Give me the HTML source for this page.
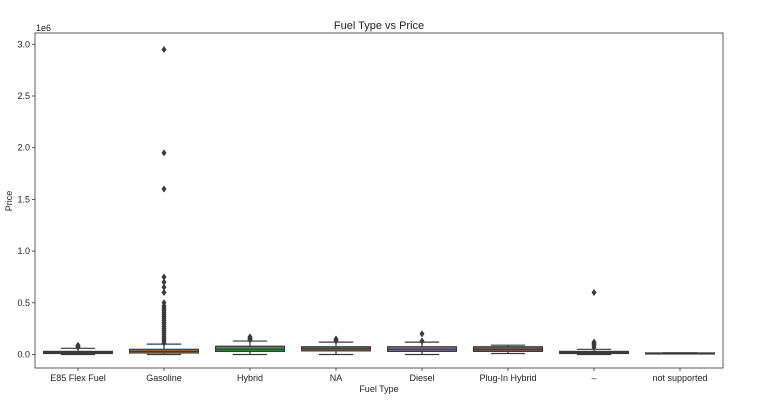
<!DOCTYPE html>
<html><head><meta charset="utf-8"><style>
body{margin:0;background:#fff;font-family:"Liberation Sans","DejaVu Sans",sans-serif}
svg text{font-family:"Liberation Sans","DejaVu Sans",sans-serif;fill:#222}
</style></head><body>
<svg id="chart" width="766" height="403" viewBox="0 0 766 403" xmlns="http://www.w3.org/2000/svg">
<text x="379" y="29" font-size="11" text-anchor="middle">Fuel Type vs Price</text>
<text x="379" y="392" font-size="9" text-anchor="middle">Fuel Type</text>
<text x="12" y="201" font-size="9" text-anchor="middle" transform="rotate(-90 12 201)">Price</text>
<text x="36" y="31" font-size="9">1e6</text>
<g id="marks"></g>
<rect x="35" y="33" width="688" height="335" fill="none" stroke="#333" stroke-width="0.8"/>
</svg>
<script>
const categories=["E85 Flex Fuel","Gasoline","Hybrid","NA","Diesel","Plug-In Hybrid","–","not supported"];
const q1=[0.01,0.015,0.03,0.035,0.03,0.03,0.01,0.01];
const medians=[0.02,0.03,0.05,0.055,0.05,0.05,0.02,0.012];
const q3=[0.03,0.05,0.08,0.075,0.075,0.075,0.03,0.015];
const whiskLow=[0,0,0,0,0,0.01,0,0.008];
const whiskHigh=[0.06,0.1,0.13,0.12,0.12,0.09,0.05,0.016];
const outliers=[[0.07,0.08,0.09],[0.11,0.13,0.15,0.17,0.19,0.21,0.23,0.25,0.27,0.29,0.31,0.33,0.35,0.37,0.39,0.41,0.43,0.45,0.47,0.5,0.6,0.65,0.7,0.75,1.6,1.95,2.95],[0.14,0.15,0.16,0.17],[0.13,0.14,0.15],[0.13,0.2],[],[0.07,0.09,0.1,0.11,0.12,0.6],[]];
const colors=["#4a6d92","#b27a4c","#3f8a4f","#a64b4b","#7a6e9e","#80594d","#c58aae","#888888"];
const yTicks=[0,0.5,1.0,1.5,2.0,2.5,3.0];
const left=35,right=723,y0=354.5,pxPerUnit=103.4;
const bandW=(right-left)/categories.length;
const x=i=>left+bandW*(i+0.5);
const y=v=>y0-v*pxPerUnit;
const NS="http://www.w3.org/2000/svg";
const g=document.getElementById('marks');
function mk(tag,attrs,parent){const e=document.createElementNS(NS,tag);for(const k in attrs)e.setAttribute(k,attrs[k]);(parent||g).appendChild(e);return e;}
yTicks.forEach(t=>{
  const tk=mk('line',{x1:left-3,x2:left,y1:y(t),y2:y(t),stroke:'#333','stroke-width':0.8});
  
  
  const tl=mk('text',{x:left-5,y:y(t)+3,'font-size':9,'text-anchor':'end'});
  tl.textContent=t.toFixed(1);
  
  
});
categories.forEach((c,i)=>{
  const cx=x(i),bw=bandW*0.8,cw=bw/2;
  const grp=mk('g',{});
  
  
  mk('line',{x1:cx,x2:cx,y1:y(whiskLow[i]),y2:y(q1[i]),stroke:'#3a3a3a','stroke-width':1.2},grp);
  mk('line',{x1:cx,x2:cx,y1:y(q3[i]),y2:y(whiskHigh[i]),stroke:'#3a3a3a','stroke-width':1.2},grp);
  mk('line',{x1:cx-cw/2,x2:cx+cw/2,y1:y(whiskLow[i]),y2:y(whiskLow[i]),stroke:'#3a3a3a','stroke-width':1.2},grp);
  mk('line',{x1:cx-cw/2,x2:cx+cw/2,y1:y(whiskHigh[i]),y2:y(whiskHigh[i]),stroke:'#3a3a3a','stroke-width':1.2},grp);
  mk('rect',{x:cx-bw/2,y:y(q3[i]),width:bw,height:Math.max(1,y(q1[i])-y(q3[i])),fill:colors[i],stroke:'#3a3a3a','stroke-width':1.2},grp);
  mk('line',{x1:cx-bw/2,x2:cx+bw/2,y1:y(medians[i]),y2:y(medians[i]),stroke:'#3a3a3a','stroke-width':1.2},grp);
  outliers[i].forEach(v=>{
    const d=mk('path',{d:`M${cx},${y(v)-3.5}L${cx+2.5},${y(v)}L${cx},${y(v)+3.5}L${cx-2.5},${y(v)}Z`,fill:'#3a3a3a'},grp);
    
    
  });
  const tk=mk('line',{x1:cx,x2:cx,y1:368,y2:371,stroke:'#333','stroke-width':0.8});
  
  
  const tl=mk('text',{x:cx,y:381,'font-size':9,'text-anchor':'middle'});
  tl.textContent=c;
  
  
});
</script>
</body></html>
